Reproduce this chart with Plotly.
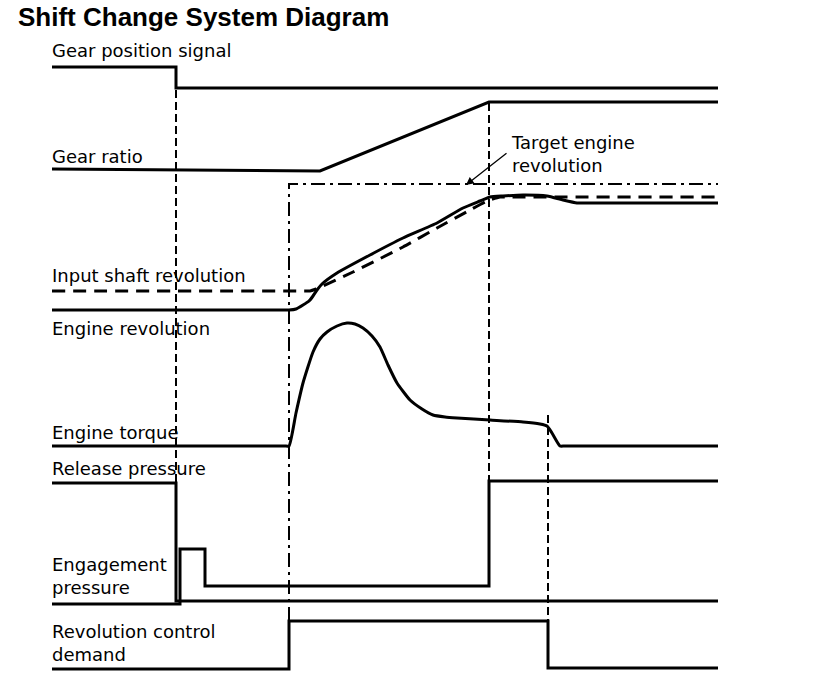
import plotly.graph_objects as go

# ---- data (diagram time axis x, signal level y in diagram units) ----
gear_pos_t = [52, 176, 176, 718]
gear_pos_y = [67, 67, 88, 88]

gear_ratio_t = [52, 320, 489, 718]
gear_ratio_y = [169, 171, 102, 102]

target_rev_t = [289, 289, 718]
target_rev_y = [621, 184, 184]

input_shaft_t = [52, 300, 306, 310, 316, 323, 353, 403, 437, 470, 487, 500, 506, 718]
input_shaft_y = [291, 291, 291, 291, 289, 286, 272, 247, 228, 210, 201, 197, 197, 197]

engine_rev_t = [52, 280, 285, 289, 296, 303, 309, 313, 317, 322, 337, 370, 403, 437, 463, 480, 490, 503, 523, 547, 563, 577, 583, 590, 718]
engine_rev_y = [310, 310, 310, 310, 309, 305, 301, 296, 290, 284, 273, 255, 238, 223, 208, 201, 197, 196, 195, 196, 200, 203, 203, 203, 203]

engine_torque_t = [52, 280, 285, 289, 296, 303, 313, 320, 327, 337, 347, 355, 363, 372, 380, 388, 397, 410, 422, 433, 445, 457, 490, 523, 540, 547, 552, 560, 564, 570, 718]
engine_torque_y = [446, 446, 446, 446, 413, 383, 352, 339, 332, 326, 323, 324, 328, 336, 347, 365, 383, 400, 409, 415, 417, 418, 420, 422, 424, 426, 433, 446, 446, 446, 446]

release_t = [52, 176, 176, 718]
release_y = [483, 483, 601, 601]

engage_t = [52, 180, 180, 205, 205, 489, 489, 718]
engage_y = [604, 604, 549, 549, 586, 586, 481, 481]

rev_demand_t = [52, 289, 289, 548, 548, 718]
rev_demand_y = [669, 669, 621, 621, 668, 668]

# timing guide lines: (time, top level, bottom level)
guide_t = [176, 489, 548]
guide_top = [90, 103, 415]
guide_bottom = [483, 481, 621]

label_texts = ["Gear position signal", "Gear ratio", "Input shaft revolution",
               "Engine revolution", "Engine torque", "Release pressure",
               "Engagement<br>pressure", "Revolution control<br>demand"]
label_y = [50, 156, 275, 328, 432, 468, 576, 643]

target_text = "Target engine<br>revolution"
title_text = "Shift Change System Diagram"

BLACK = "#000000"
FONT = "DejaVu Sans, sans-serif"
TITLE_FONT = "Liberation Sans, Arial, sans-serif"

fig = go.Figure()

def add_line(t, y, width=3, dash="solid", shape="linear", smoothing=None):
    line = dict(color=BLACK, width=width, dash=dash, shape=shape)
    if smoothing is not None:
        line["smoothing"] = smoothing
    fig.add_trace(go.Scatter(x=t, y=y, mode="lines", line=line, hoverinfo="skip"))

# guide lines
for gt, gtop, gbot in zip(guide_t, guide_top, guide_bottom):
    add_line([gt, gt], [gtop, gbot], width=2, dash="8px,4px")

add_line(gear_pos_t, gear_pos_y)
add_line(gear_ratio_t, gear_ratio_y)
add_line(target_rev_t, target_rev_y, width=2, dash="14px,5px,3px,5px")
add_line(input_shaft_t, input_shaft_y, width=3, dash="13px,8px", shape="spline", smoothing=0.5)
add_line(engine_rev_t, engine_rev_y, shape="spline", smoothing=0.5)
add_line(engine_torque_t, engine_torque_y, shape="spline", smoothing=0.5)
add_line(release_t, release_y)
add_line(engage_t, engage_y)
add_line(rev_demand_t, rev_demand_y)

annotations = []
for txt, ly in zip(label_texts, label_y):
    annotations.append(dict(x=50, y=ly, xref="x", yref="y", text=txt, showarrow=False,
                            xanchor="left", yanchor="middle", align="left",
                            font=dict(family=FONT, size=18, color=BLACK)))

annotations.append(dict(x=509, y=154, xref="x", yref="y", text=target_text, showarrow=False,
                        xanchor="left", yanchor="middle", align="left",
                        font=dict(family=FONT, size=18, color=BLACK)))
# arrow pointing to target engine revolution line
annotations.append(dict(x=466, y=185, xref="x", yref="y", ax=508, ay=152, axref="x", ayref="y",
                        text="", showarrow=True, arrowhead=2, arrowsize=1.2, arrowwidth=1.3,
                        arrowcolor=BLACK))
annotations.append(dict(x=16, y=17, xref="x", yref="y", text="<b>" + title_text + "</b>",
                        showarrow=False, xanchor="left", yanchor="middle",
                        font=dict(family=TITLE_FONT, size=26, color=BLACK)))

fig.update_layout(
    width=816, height=676,
    margin=dict(l=0, r=0, t=0, b=0),
    paper_bgcolor="white", plot_bgcolor="white",
    showlegend=False,
    xaxis=dict(range=[0, 816], visible=False, fixedrange=True),
    yaxis=dict(range=[676, 0], visible=False, fixedrange=True),
    annotations=annotations,
)

fig.write_html("out.html", config={"displayModeBar": False},
               post_script="document.body.style.margin='0px';")
